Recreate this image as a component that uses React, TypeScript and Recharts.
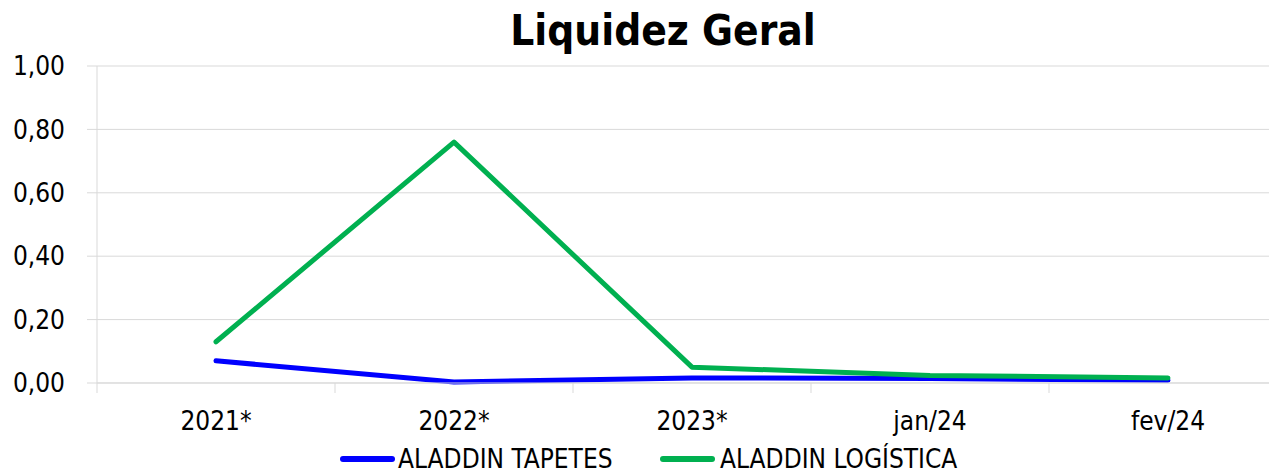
import { LineChart, Line, XAxis, YAxis, CartesianGrid } from "recharts"

const categories = ["2021*", "2022*", "2023*", "jan/24", "fev/24"]
const tapetes = [0.07, 0.003, 0.016, 0.014, 0.009]
const logistica = [0.13, 0.76, 0.05, 0.024, 0.016]
const yTicks = [0, 0.2, 0.4, 0.6, 0.8, 1]

const series = [
  { key: "tapetes", name: "ALADDIN TAPETES", color: "#0000FF" },
  { key: "logistica", name: "ALADDIN LOGÍSTICA", color: "#00B050" },
]

const data = categories.map((c, i) => ({
  name: c,
  tapetes: tapetes[i],
  logistica: logistica[i],
}))

const FONT = "'DejaVu Sans Condensed', 'DejaVu Sans', sans-serif"
const GRID = "#d9d9d9"
const CHART_W = 1290
const PLOT_LEFT = 97
const PLOT_RIGHT = 3
const BAND = (CHART_W - PLOT_LEFT - PLOT_RIGHT) / categories.length

const fmt = (v: number) => v.toFixed(2).replace(".", ",")

function CategoryTick(props: any) {
  const { x, y, payload, index } = props
  return (
    <g>
      <line x1={x - BAND / 2} y1={y} x2={x - BAND / 2} y2={y + 10} stroke={GRID} />
      {index === categories.length - 1 && (
        <line x1={x + BAND / 2} y1={y} x2={x + BAND / 2} y2={y + 10} stroke={GRID} />
      )}
      <text x={x} y={y + 47} textAnchor="middle" fill="#000" fontSize={26} fontFamily={FONT}>
        {payload.value}
      </text>
    </g>
  )
}

const legendPos = [
  { line: 340, text: 398 },
  { line: 660, text: 720 },
]

export default function App() {
  return (
    <div
      style={{
        position: "relative",
        width: 1277,
        height: 475,
        overflow: "hidden",
        margin: "-8px 0 0 -8px",
        background: "#fff",
        fontFamily: FONT,
      }}
    >
      <div
        style={{
          position: "absolute",
          top: 10,
          left: 663,
          transform: "translateX(-50%)",
          fontSize: 42,
          lineHeight: "42px",
          fontWeight: "bold",
          whiteSpace: "nowrap",
          color: "#000",
        }}
      >
        Liquidez Geral
      </div>
      <LineChart
        width={CHART_W}
        height={475}
        data={data}
        margin={{ top: 66, right: PLOT_RIGHT, left: 0, bottom: 0 }}
      >
        <CartesianGrid vertical={false} stroke={GRID} />
        <XAxis
          dataKey="name"
          height={92}
          padding={{ left: BAND / 2, right: BAND / 2 }}
          axisLine={{ stroke: GRID }}
          tickLine={false}
          tickSize={0}
          tickMargin={0}
          interval={0}
          tick={<CategoryTick />}
        />
        <YAxis
          width={PLOT_LEFT}
          domain={[0, 1]}
          ticks={yTicks}
          tickFormatter={fmt}
          axisLine={{ stroke: GRID }}
          tickLine={{ stroke: GRID }}
          tickSize={10}
          tickMargin={22}
          tick={{ fill: "#000", fontSize: 26, fontFamily: FONT }}
        />
        {series.map((s) => (
          <Line
            key={s.key}
            dataKey={s.key}
            name={s.name}
            stroke={s.color}
            strokeWidth={5}
            strokeLinecap="round"
            strokeLinejoin="round"
            dot={false}
            activeDot={false}
            isAnimationActive={false}
          />
        ))}
      </LineChart>
      {series.map((s, i) => (
        <div key={s.key}>
          <div
            style={{
              position: "absolute",
              left: legendPos[i].line,
              top: 456,
              width: 55,
              height: 6,
              borderRadius: 3,
              background: s.color,
            }}
          />
          <div
            style={{
              position: "absolute",
              left: legendPos[i].text,
              top: 448,
              fontSize: 26,
              lineHeight: "22px",
              whiteSpace: "nowrap",
              color: "#000",
            }}
          >
            {s.name}
          </div>
        </div>
      ))}
    </div>
  )
}
